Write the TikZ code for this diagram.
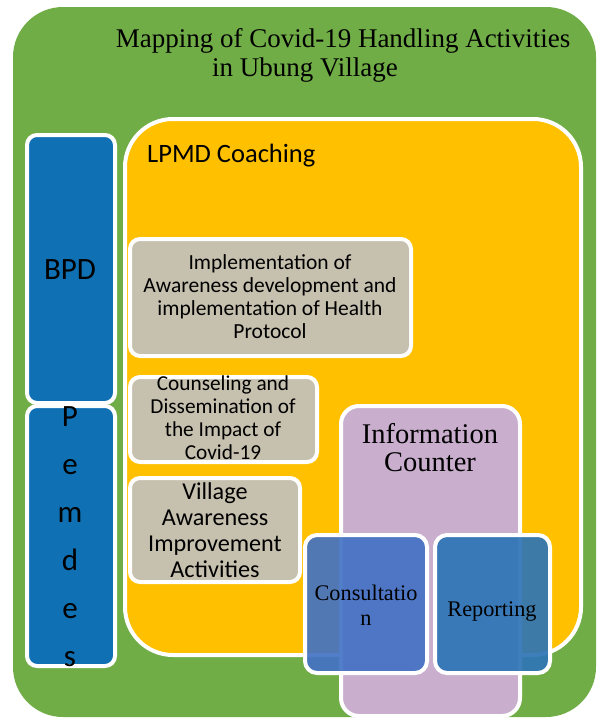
\documentclass[tikz,border=0pt]{standalone}
\usepackage{fontspec}
\setmainfont{Carlito}
\newfontfamily\seriff{Liberation Serif}
\definecolor{cgreen}{HTML}{70AD47}
\definecolor{cyellow}{HTML}{FFC000}
\definecolor{cblue}{HTML}{0F70B3}
\definecolor{ctan}{HTML}{C6C0AE}
\definecolor{cpurple}{HTML}{C9AECE}
\definecolor{cconsult}{HTML}{4472C4}
\definecolor{creport}{HTML}{2E75B6}
\tikzset{
  panel/.style={draw=white, line width=4pt, rounded corners=#1},
  panel/.default=10pt,
  lbl/.style={inner sep=0pt, align=center, text=black},
}
\begin{document}
\begin{tikzpicture}[x=1pt,y=-1pt]
\useasboundingbox (0,0) rectangle (597,718);
% outer green
\fill[cgreen, rounded corners=50pt] (13,7) rectangle (596,717);
% yellow coaching
\path[panel=48pt, fill=cyellow] (125,119) rectangle (581,655);
% BPD / Pemdes
\path[panel, fill=cblue] (27,135) rectangle (115,403);
\path[panel, fill=cblue] (27,406) rectangle (115,666);
% activity boxes
\path[panel, fill=ctan] (130,239) rectangle (411,356);
\path[panel, fill=ctan] (130,377) rectangle (317,462);
\path[panel, fill=ctan] (130,478) rectangle (300,582);
% information counter
\path[panel=18pt, fill=cpurple] (341,406) rectangle (520,716);
\path[panel=12pt, fill=cconsult, fill opacity=0.92] (305,535) rectangle (427,673);
\path[panel=12pt, fill=creport, fill opacity=0.92] (435,535) rectangle (550,673);
% texts
\node[lbl, font=\seriff\fontsize{27}{30}\selectfont] (t1) at (343,41) {Mapping of Covid-19 Handling Activities};
\node[lbl, font=\seriff\fontsize{27}{30}\selectfont] (t2) at (305,70) {in Ubung Village};
\node[lbl, anchor=west, font=\fontsize{26.5}{30}\selectfont] (lpmd) at (147,156) {LPMD Coaching};
\node[lbl, font=\fontsize{31}{34}\selectfont] (bpd) at (70,270) {BPD};
\node[lbl, font=\fontsize{31}{48}\selectfont] (pemdes) at (70,537) {P\\e\\m\\d\\e\\s};
\node[lbl, font=\fontsize{21.5}{23}\selectfont] (impl) at (270,297) {Implementation of\\Awareness development and\\implementation of Health\\Protocol};
\node[lbl, font=\fontsize{21.3}{23}\selectfont] (couns) at (223,418) {Counseling and\\Dissemination of\\the Impact of\\Covid-19};
\node[lbl, font=\fontsize{24.2}{26}\selectfont] (vill) at (215,530) {Village\\Awareness\\Improvement\\Activities};
\node[lbl, font=\seriff\fontsize{28.5}{28}\selectfont] (info) at (430,448) {Information\\Counter};
\node[lbl, font=\seriff\fontsize{22.3}{25}\selectfont] (cons) at (366,605) {Consultatio\\n};
\node[lbl, font=\seriff\fontsize{22.3}{25}\selectfont] (rep) at (492,612) {Reporting};
\end{tikzpicture}
\end{document}
